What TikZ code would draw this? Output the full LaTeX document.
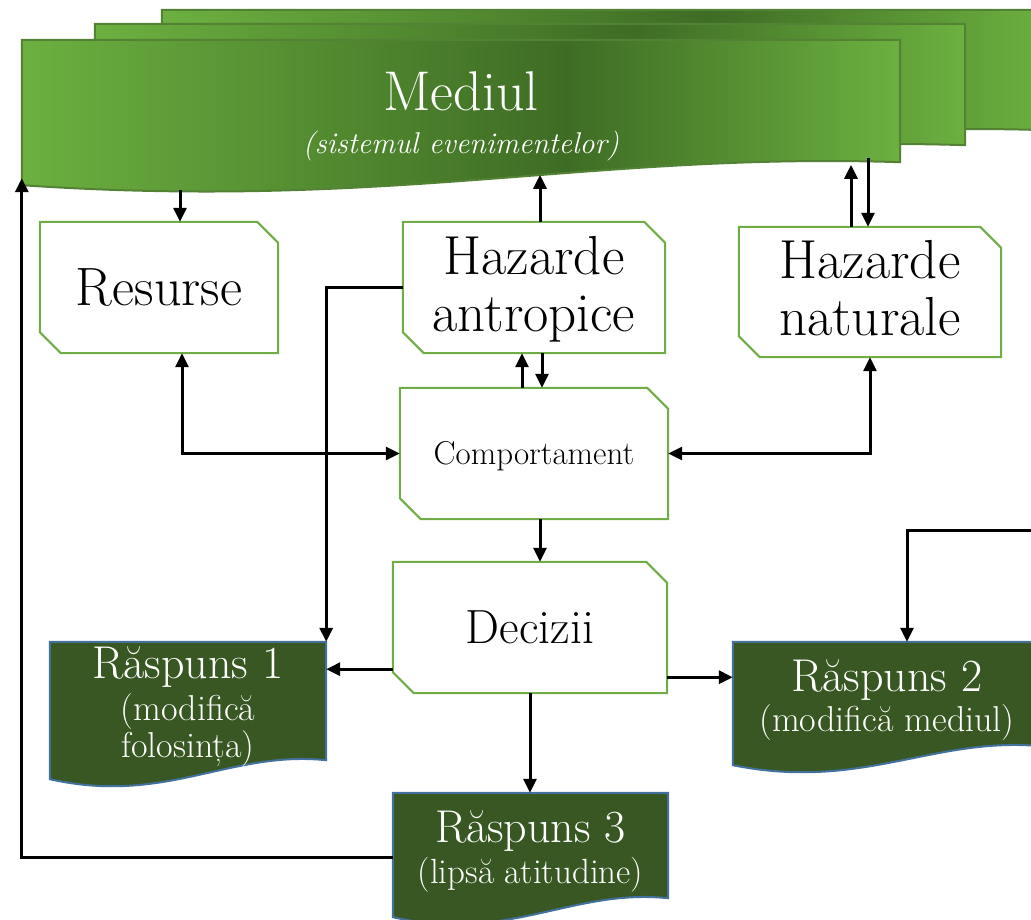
\documentclass[tikz,border=0pt]{standalone}
\usepackage{tikz}
\usetikzlibrary{arrows.meta,calc,backgrounds}
\definecolor{envlight}{RGB}{108,176,64}
\definecolor{envdark}{RGB}{62,108,36}
\definecolor{envline}{RGB}{84,130,53}
\definecolor{boxline}{RGB}{112,173,71}
\definecolor{respfill}{RGB}{56,87,35}
\definecolor{respline}{RGB}{65,113,156}
\pgfdeclarehorizontalshading{envshade}{100bp}{color(0bp)=(envlight); color(25bp)=(envlight); color(56bp)=(envdark); color(75bp)=(envlight); color(100bp)=(envlight)}
\tikzstyle{boxnode}=[draw=none,inner sep=0pt,align=center]
\tikzstyle{snipline}=[fill=white,draw=boxline,line width=2pt]
\tikzstyle{envshape}=[shading=envshade,draw=envline,line width=2pt]
\tikzstyle{respshape}=[fill=respfill,draw=respline,line width=2pt]
\tikzstyle{arr}=[line width=3pt,-{Triangle[length=14pt,width=13pt]}]
\tikzstyle{darr}=[line width=3pt,{Triangle[length=14pt,width=13pt]}-{Triangle[length=14pt,width=13pt]}]
\newcommand{\lowstrut}[1]{\rule[-#1]{0pt}{#1}}
\newcommand{\snipbox}[1]{\path[snipline] ([xshift=-21pt]#1.north east) -- (#1.north west) -- ([yshift=21pt]#1.south west) -- ([xshift=21pt]#1.south west) -- (#1.south east) -- ([yshift=-21pt]#1.north east) -- cycle;}
\newcommand{\wavebox}[4]{\path[#2] (#1.north west) -- (#1.north east) -- ($(#1.south east)+(0,-#3)$) .. controls ($(#1.south east)!0.35!(#1.south west)+(0,-#3-10)$) and ($(#1.south west)!0.42!(#1.south east)+(0,18)$) .. ($(#1.south west)+(0,-#4)$) -- cycle;}

\begin{document}
\begin{tikzpicture}[x=1pt,y=-1pt]
    \useasboundingbox (0,0) rectangle (1031,920);
    \node[boxnode,minimum width=883pt,minimum height=150pt] (envback) at (603.5,85) {};
    \node[boxnode,minimum width=870pt,minimum height=151pt] (envmid) at (530,99.5) {};
    \node[boxnode,minimum width=878pt,minimum height=152pt,text=white,font=\fontsize{30}{43}\selectfont] (mediul) at (461,116) {{\fontsize{56}{60}\selectfont Mediul}\\ \itshape (sistemul evenimentelor)};
    \node[boxnode,minimum width=238pt,minimum height=131pt,font=\fontsize{54}{57}\selectfont] (resurse) at (159,287.5) {Resurse};
    \node[boxnode,minimum width=262pt,minimum height=131pt,font=\fontsize{55}{57}\selectfont] (hzantrop) at (534,287.5) {\rule{0pt}{42pt}Hazarde\\ antropice};
    \node[boxnode,minimum width=262pt,minimum height=130pt,font=\fontsize{55}{57}\selectfont] (hznat) at (870,292) {Hazarde\\ naturale\lowstrut{9pt}};
    \node[boxnode,minimum width=268pt,minimum height=131pt,font=\fontsize{33}{36}\selectfont] (comport) at (534,453.5) {\rule{0pt}{29pt}Comportament};
    \node[boxnode,minimum width=274pt,minimum height=131pt,font=\fontsize{48}{50}\selectfont] (decizii) at (530,627.5) {Decizii};
    \node[boxnode,minimum width=276pt,minimum height=145pt,text=white,font=\fontsize{36}{37}\selectfont] (rasp1) at (188,714.5) {{\fontsize{46}{50}\selectfont Răspuns 1}\\[5pt] (modifică\\ folosința)\lowstrut{24pt}};
    \node[boxnode,minimum width=308pt,minimum height=131pt,text=white,font=\fontsize{36}{40}\selectfont] (rasp2) at (887,707.5) {{\fontsize{46}{50}\selectfont Răspuns 2}\\ (modifică mediul)\lowstrut{24pt}};
    \node[boxnode,minimum width=275pt,minimum height=132pt,text=white,font=\fontsize{35}{41}\selectfont] (rasp3) at (530.5,859) {{\fontsize{46}{50}\selectfont Răspuns 3}\\ (lipsă atitudine)\lowstrut{24pt}};
    \coordinate (offright) at (1045,530);

    \begin{scope}[on background layer]
    \wavebox{envback}{envshape}{30}{7}
    \wavebox{envmid}{envshape}{30}{7}
    \wavebox{mediul}{envshape}{30}{7}
    \foreach \n in {resurse,hzantrop,hznat,comport,decizii}
        {\snipbox{\n}}
    \foreach \n in {rasp1,rasp2,rasp3}
        {\wavebox{\n}{respshape}{27}{8}}
    \end{scope}

    \draw[arr] ($(resurse.north)+(21,-32)$) -- ($(resurse.north)+(21,0)$);
    \draw[arr] ($(hzantrop.north)+(6,0)$) -- ($(hzantrop.north)+(6,-47)$);
    \draw[arr] ($(hznat.north)+(-19,0)$) -- ($(hznat.north)+(-19,-62)$);
    \draw[arr] ($(hznat.north)+(-2,-69)$) -- ($(hznat.north)+(-2,0)$);
    \draw[arr] ([xshift=-12pt]comport.north) -- ([xshift=-12pt]comport.north |- hzantrop.south);
    \draw[arr] ([xshift=8pt]hzantrop.south) -- ([xshift=8pt]hzantrop.south |- comport.north);
    \draw[darr] ([xshift=23pt]resurse.south) |- (comport.west);
    \draw[darr] (hznat.south) |- (comport.east);
    \draw[arr] (hzantrop.west) -| (rasp1.north east);
    \draw[arr] ([xshift=6pt]comport.south) -- ([xshift=6pt]comport.south |- decizii.north);
    \draw[arr] ([yshift=24pt]decizii.south west) -- ([yshift=24pt]decizii.south west -| rasp1.east);
    \draw[arr] ([yshift=16pt]decizii.south east) -- ([yshift=16pt]decizii.south east -| rasp2.west);
    \draw[arr] (decizii.south) -- (decizii.south |- rasp3.north);
    \draw[arr] ([yshift=2pt]rasp3.west) -| ([yshift=14pt]mediul.south west);
    \draw[arr] (offright) -| ([xshift=20pt]rasp2.north);
\end{tikzpicture}
\end{document}
